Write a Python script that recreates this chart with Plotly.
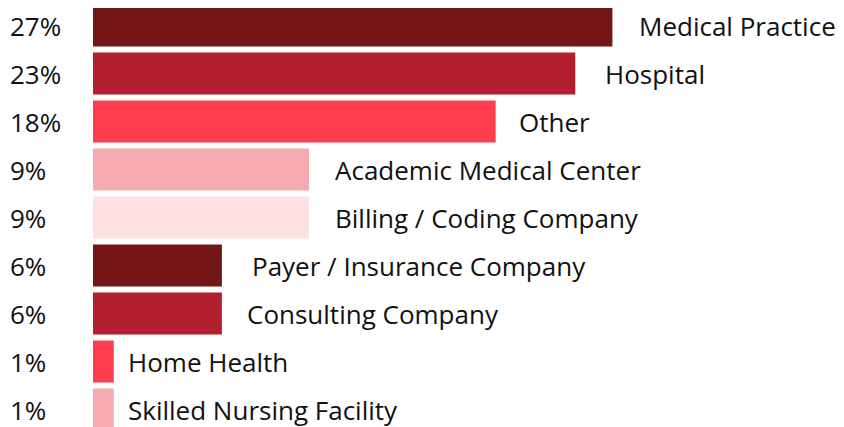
import plotly.graph_objects as go

categories = ["Medical Practice", "Hospital", "Other", "Academic Medical Center",
              "Billing / Coding Company", "Payer / Insurance Company",
              "Consulting Company", "Home Health", "Skilled Nursing Facility"]
pct_labels = ["27%", "23%", "18%", "9%", "9%", "6%", "6%", "1%", "1%"]
# bar lengths as drawn (estimated, in percent units of the longest bar)
values = [27.0, 25.07, 20.93, 11.23, 11.23, 6.7, 6.7, 1.08, 1.08]

colors = ["#731517", "#B2202F", "#FF3D4E", "#F6ABB1", "#FDE0E2",
          "#731517", "#B2202F", "#FF3D4E", "#F6ABB1"]
label_offsets = [25, 28, 21, 24, 24, 28, 23, 12, 12]

PAGE_OFF = 8  # default page body margin
W, H = 844 - PAGE_OFF, 427 - PAGE_OFF
ML = 93 - PAGE_OFF
plot_w = W - ML
px_per_unit = 519.4 / 27.0
xmax = plot_w / px_per_unit
pitch = 48.0
first_center = 25.5 - PAGE_OFF

fig = go.Figure(go.Bar(
    x=values, y=categories, orientation="h",
    marker=dict(color=colors, line=dict(width=0)),
    width=42 / pitch, hoverinfo="skip",
))

font = dict(family="Open Sans", size=26, color="#111111")
ann = []
for i, (c, v, p) in enumerate(zip(categories, values, pct_labels)):
    ann.append(dict(x=v, y=c, xref="x", yref="y", text=c, showarrow=False,
                    xanchor="left", yanchor="middle", xshift=label_offsets[i], font=font))
    ann.append(dict(x=(8 - 93) / plot_w, y=c, xref="paper", yref="y", text=p,
                    showarrow=False, xanchor="left", yanchor="middle", font=font))

top = -first_center / pitch
bottom = (H - first_center) / pitch
fig.update_layout(
    width=W, height=H,
    margin=dict(l=ML, r=0, t=0, b=0),
    paper_bgcolor="white", plot_bgcolor="white",
    showlegend=False,
    xaxis=dict(range=[0, xmax], visible=False),
    yaxis=dict(range=[bottom, top], visible=False, type="category",
               categoryorder="array", categoryarray=categories),
    annotations=ann,
)
fig.write_html("out.html")
